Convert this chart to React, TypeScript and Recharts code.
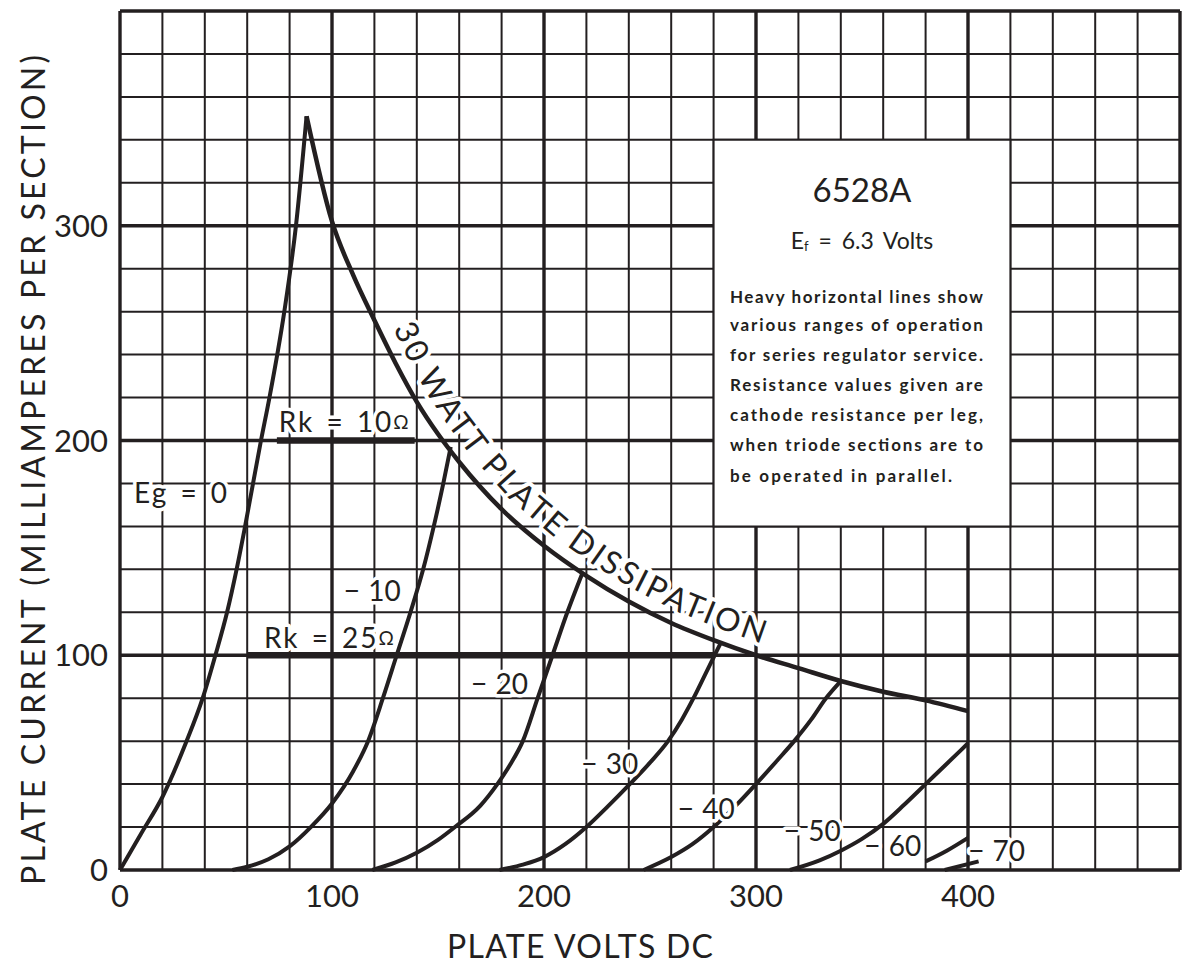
import React from "react";
import { LineChart, Line, XAxis, YAxis, CartesianGrid, ReferenceArea, ReferenceDot, Customized } from "recharts";

const FONT = "Lato, 'DejaVu Sans', sans-serif";
const INK = "#231f20";

// plate volts vs plate mA
const eg0 = [[0, 0], [10, 17], [20, 34], [31, 59], [39, 80], [45, 100], [50.5, 120], [55, 140], [59, 160], [66.5, 200], [70.5, 220], [77.5, 260], [83, 300], [88, 351]];
const eg10 = [[53, 0], [60, 1.5], [70, 5], [80, 11], [90, 20], [100, 31], [110, 46], [117, 60], [124, 80], [130.5, 100], [137, 120], [143, 140], [148, 160], [152.5, 180], [156, 197]];
const eg20 = [[119, 0], [130, 3.5], [140, 8], [150, 14], [158, 20], [170, 30], [178, 40], [184, 49], [190, 60], [197, 80], [204, 100], [211, 120], [218, 138]];
const eg30 = [[179, 0], [190, 2.5], [200, 6], [210, 12], [220, 20], [230, 29.5], [240, 39.5], [250, 50], [258.5, 60], [265, 70], [270.5, 80], [276, 91], [280.5, 100], [283.5, 106]];
const eg40 = [[247, 0], [260, 6], [270, 12], [280, 20], [290, 29.5], [300, 40], [310, 51], [318, 60], [326, 70], [333, 80], [340, 88]];
const eg50 = [[316, 0], [330, 4.5], [340, 9], [350, 14.5], [360, 21.5], [370, 30.5], [380, 40], [390, 49.5], [400, 59]];
const eg60 = [[380, 4], [390, 9], [400, 15]];
const eg70 = [[389, 0], [405, 4]];
const dissipation = [[88, 351], [100, 302], [110, 277], [120, 256], [130, 236], [140, 218], [150, 203], [160, 190], [180, 168], [200, 151], [220, 137], [240, 125], [260, 115], [280, 107], [300, 100], [320, 94], [340, 88], [360, 83], [380, 79], [400, 74]];
const rk10 = [[74, 200], [139, 200]];
const rk25 = [[60, 100], [280, 100]];

const xTicks = [0, 100, 200, 300, 400];
const yTicks = [0, 100, 200, 300];

const pts = (a: number[][]) => a.map(([v, i]) => ({ v, i }));

const gridX: number[] = [];
for (let v = 0; v <= 500; v += 20) gridX.push(v);
const gridY: number[] = [];
for (let i = 0; i <= 400; i += 20) gridY.push(i);
const heavyX = [0, 100, 200, 300, 400, 500];
const heavyY = [0, 100, 200, 300, 400];

// plot box (chart is pinned to page 0,0)
const W = 1182, H = 963;
const M = { top: 11, right: 2, bottom: 0, left: 0 };
const YW = 120, XH = 93;
const PL = M.left + YW, PT = M.top, PW = W - PL - M.right, PH = H - PT - XH;
const sx = (v: number) => PL + (v / 500) * PW;
const sy = (i: number) => PT + PH - (i / 400) * PH;

const tags = [
  { v: 29, i: 176, text: "Eg = 0", wide: true },
  { v: 106, i: 209, text: "Rk = 10", ohm: true, wide: true },
  { v: 99, i: 108.5, text: "Rk = 25", ohm: true, wide: true },
  { v: 119, i: 130.5, text: "− 10" },
  { v: 179, i: 87, text: "− 20" },
  { v: 231, i: 50, text: "− 30" },
  { v: 276.5, i: 29, text: "− 40" },
  { v: 326.5, i: 18.6, text: "− 50" },
  { v: 364.5, i: 11.7, text: "− 60" },
  { v: 413.5, i: 9.3, text: "− 70" },
];

const note = [
  "Heavy horizontal lines show",
  "various ranges of operation",
  "for series regulator service.",
  "Resistance values given are",
  "cathode resistance per leg,",
  "when triode sections are to",
  "be operated in parallel.",
];
const noteY = [264, 251, 237, 223, 209, 195, 180.6];

const halo = { stroke: "#fff", strokeWidth: 7, paintOrder: "stroke" as const, strokeLinejoin: "round" as const };

const Tag = (p: any) => {
  const { x, y } = p.viewBox;
  return (
    <text x={x} y={y} textAnchor="middle" dominantBaseline="central" fontFamily={FONT} fontSize={28}
      fill={INK} letterSpacing={p.wide ? 2 : 0} wordSpacing={p.wide ? 3 : 1} {...halo}>
      {p.text}
      {p.ohm ? <tspan fontSize={19}>Ω</tspan> : null}
    </text>
  );
};

const NoteLine = (p: any) => {
  const { x, y } = p.viewBox;
  return (
    <text x={x} y={y} fontFamily={FONT} fontSize={17} fontWeight={700} fill={INK}
      textLength={p.last ? 222 : 253} lengthAdjust="spacing">{p.text}</text>
  );
};

const Title = (p: any) => {
  const { x, y } = p.viewBox;
  return <text x={x} y={y} textAnchor="middle" dominantBaseline="central" fontFamily={FONT} fontSize={33} fill={INK}>6528A</text>;
};

const Filament = (p: any) => {
  const { x, y } = p.viewBox;
  return (
    <text x={x} y={y} textAnchor="middle" dominantBaseline="central" fontFamily={FONT} fontSize={23} fill={INK} wordSpacing={4}>
      E<tspan fontSize={13} dy={6}>f</tspan><tspan dy={-6}> = 6.3 Volts</tspan>
    </text>
  );
};

// baseline for the curved caption: the 30 W curve pushed out to its upper-right side
const captionPath = (gap: number) => {
  const p = dissipation.filter(([v]) => v >= 100 && v <= 340).map(([v, i]) => [sx(v), sy(i)]);
  return p
    .map(([x, y], k) => {
      const a = p[Math.max(0, k - 1)], b = p[Math.min(p.length - 1, k + 1)];
      const tx = b[0] - a[0], ty = b[1] - a[1];
      const len = Math.hypot(tx, ty) || 1;
      const nx = ty / len, ny = -tx / len;
      return `${k ? "L" : "M"}${(x + nx * gap).toFixed(1)},${(y + ny * gap).toFixed(1)}`;
    })
    .join(" ");
};

const Decor = () => (
  <g>
    <defs>
      <path id="dissPath" d={captionPath(13)} />
    </defs>
    <text fontFamily={FONT} fontSize={32} fill={INK} letterSpacing={2.8} {...halo} strokeWidth={8}>
      <textPath href="#dissPath" startOffset={122}>30 WATT PLATE DISSIPATION</textPath>
    </text>
    <text x={32} y={470} transform="rotate(-90 32 470)" textAnchor="middle" dominantBaseline="central"
      fontFamily={FONT} fontSize={32} fill={INK} textLength={830} lengthAdjust="spacing">
      PLATE CURRENT (MILLIAMPERES PER SECTION)
    </text>
    <text x={580} y={945} textAnchor="middle" dominantBaseline="central" fontFamily={FONT} fontSize={32}
      fill={INK} textLength={266} lengthAdjust="spacing">
      PLATE VOLTS DC
    </text>
  </g>
);

const curves = [eg0, eg10, eg20, eg30, eg40, eg50, eg60, eg70];

export default function App() {
  return (
    <div style={{ position: "absolute", left: 0, top: 0, width: W, height: H, background: "#fff" }}>
      <LineChart width={W} height={H} margin={M}>
        <CartesianGrid horizontalValues={gridY} verticalValues={gridX} stroke={INK} strokeWidth={2} />
        <CartesianGrid horizontalValues={heavyY} verticalValues={heavyX} stroke={INK} strokeWidth={3.4} />
        <XAxis type="number" dataKey="v" domain={[0, 500]} ticks={xTicks} height={XH} axisLine={false}
          tickLine={false} tickMargin={9} tick={{ fontSize: 31, fill: INK, fontFamily: FONT }} />
        <YAxis type="number" dataKey="i" domain={[0, 400]} ticks={yTicks} width={YW} axisLine={false}
          tickLine={false} tickMargin={6} tick={{ fontSize: 31, fill: INK, fontFamily: FONT }} />
        <ReferenceArea x1={280} x2={420} y1={160} y2={340} fill="#fff" fillOpacity={1} stroke={INK} strokeWidth={2} />
        <Customized component={<Decor />} />
        {curves.map((c, k) => (
          <Line key={k} data={pts(c)} dataKey="i" type="monotone" stroke={INK} strokeWidth={4}
            dot={false} isAnimationActive={false} />
        ))}
        <Line data={pts(dissipation)} dataKey="i" type="monotone" stroke={INK} strokeWidth={4.5} dot={false} isAnimationActive={false} />
        <Line data={pts(rk10)} dataKey="i" type="linear" stroke={INK} strokeWidth={6.5} dot={false} isAnimationActive={false} />
        <Line data={pts(rk25)} dataKey="i" type="linear" stroke={INK} strokeWidth={6.5} dot={false} isAnimationActive={false} />
        {tags.map((t, k) => (
          <ReferenceDot key={"t" + k} x={t.v} y={t.i} r={0} fill="none" stroke="none"
            label={<Tag text={t.text} ohm={t.ohm} wide={t.wide} />} />
        ))}
        <ReferenceDot x={350} y={317} r={0} fill="none" stroke="none" label={<Title />} />
        <ReferenceDot x={350} y={293.5} r={0} fill="none" stroke="none" label={<Filament />} />
        {note.map((s, k) => (
          <ReferenceDot key={"n" + k} x={287.7} y={noteY[k]} r={0} fill="none" stroke="none"
            label={<NoteLine text={s} last={k === note.length - 1} />} />
        ))}
      </LineChart>
    </div>
  );
}
